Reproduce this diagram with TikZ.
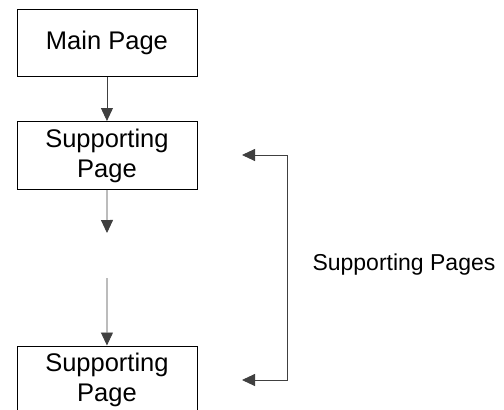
\documentclass[tikz,border=0pt]{standalone}
\usepackage{fontspec}
\setmainfont{Liberation Sans}
\usetikzlibrary{arrows.meta}
\begin{document}
\begin{tikzpicture}[x=1pt,y=-1pt,
  pagebox/.style={draw=black,line width=0.9pt,minimum width=180pt,inner sep=0pt,
    font=\fontsize{25.5}{30}\selectfont,align=center,anchor=north west},
  conn/.style={draw=black!75,line width=0.9pt},
  tip/.style={-{Triangle[length=13pt,width=12pt]}}]
\useasboundingbox (0,0) rectangle (504,410);
\node[pagebox,minimum height=67pt] (main) at (16.5,9) {Main Page};
\node[pagebox,minimum height=68pt] (sp1) at (16.5,121) {Supporting\\Page};
\node[pagebox,minimum height=68pt] (sp2) at (16.5,345.5) {Supporting\\Page};
\node[font=\fontsize{23}{28}\selectfont,anchor=west] (lbl) at (309,265) {Supporting Pages};
\coordinate (d1) at (107,233);
\coordinate (d2) at (107,278);
\coordinate (t1) at (242,155);
\coordinate (c1) at (287,155);
\coordinate (c2) at (287,380);
\coordinate (t2) at (242,380);
\draw[conn,tip] (main.south) -- (sp1.north);
\draw[conn,tip] (sp1.south) -- (d1);
\draw[conn,tip] (d2) -- (sp2.north);
\draw[conn,{Triangle[length=13pt,width=12pt]}-{Triangle[length=13pt,width=12pt]}] (t1) -- (c1) -- (c2) -- (t2);
\end{tikzpicture}
\end{document}
